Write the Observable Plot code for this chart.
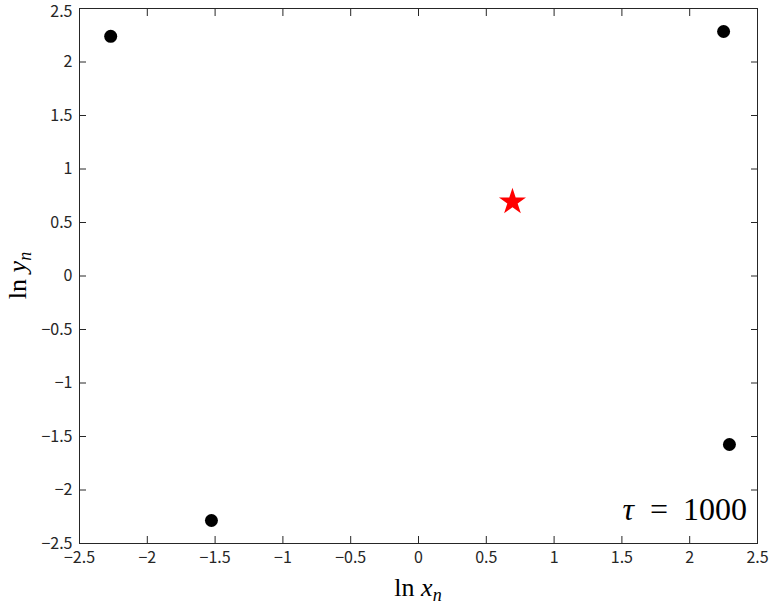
<!DOCTYPE html>
<html><head><meta charset="utf-8">
<script src="https://cdn.jsdelivr.net/npm/d3@7"></script>
<script src="https://cdn.jsdelivr.net/npm/@observablehq/plot@0.6"></script>
<style>
body{margin:0;background:#fff;}
#chart svg{display:block;}
</style></head>
<body><div id="chart"></div>
<script>
const lnX = [-2.27, 2.25, -1.527, 2.293];
const lnY = [2.24, 2.285, -2.285, -1.575];
const fixedX = [0.693];
const fixedY = [0.693];
const xTicks = [-2.5,-2,-1.5,-1,-0.5,0,0.5,1,1.5,2,2.5];
const yTicks = [-2.5,-2,-1.5,-1,-0.5,0,0.5,1,1.5,2,2.5];
const tauLabel = "1000";

const pts = lnX.map((x,i)=>({x, y: lnY[i]}));
const star = fixedX.map((x,i)=>({x, y: fixedY[i]}));
const fmt = d => (d<0 ? "\u2212" : "") + Math.abs(d);
const W = 771, H = 606, ML = 79, MR = 14, MT = 8, MB = 63;
const axisColor = "#262626";
const tickFont = {fontSize: 16, fontFamily: "'Noto Sans CJK JP', 'Noto Sans', sans-serif", fill: "#262626"};
const yMax = d3.max(yTicks);

const plot = Plot.plot({
  width: W, height: H,
  marginLeft: ML, marginRight: MR, marginTop: MT, marginBottom: MB,
  style: {background: "#fff", overflow: "visible"},
  x: {domain: [-2.5, 2.5], label: null},
  y: {domain: [-2.5, 2.5], label: null},
  marks: [
    Plot.axisX({anchor: "bottom", ticks: xTicks, tickSize: -7, text: null, stroke: axisColor, label: null}),
    Plot.axisX({anchor: "top", ticks: xTicks, tickSize: -7, text: null, stroke: axisColor, label: null}),
    Plot.axisY({anchor: "left", ticks: yTicks, tickSize: -7, text: null, stroke: axisColor, label: null}),
    Plot.axisY({anchor: "right", ticks: yTicks, tickSize: -7, text: null, stroke: axisColor, label: null}),
    Plot.axisX({anchor: "bottom", ticks: xTicks, tickSize: 0, tickPadding: 8, tickFormat: fmt, label: null, ...tickFont}),
    Plot.axisY({anchor: "left", ticks: yTicks.filter(d => d !== yMax), tickSize: 0, tickPadding: 7, tickFormat: fmt, label: null, ...tickFont}),
    Plot.axisY({anchor: "left", ticks: [yMax], tickSize: 0, tickPadding: 7, tickFormat: fmt, label: null, dy: 3, ...tickFont}),
    Plot.frame({stroke: axisColor, strokeWidth: 1}),
    Plot.dot(pts, {x: "x", y: "y", r: 6.5, fill: "black", stroke: "none"}),
    Plot.dot(star, {x: "x", y: "y", symbol: "star", r: 8.5, fill: "#ff0000", stroke: "none"})
  ]
});
document.getElementById("chart").appendChild(plot);

const svg = d3.select(plot);
const serif = "'Liberation Serif', 'DejaVu Serif', serif";
// x label
const xl = svg.append("text").attr("x", ML + (W-ML-MR)/2).attr("y", 596)
  .attr("text-anchor", "middle").attr("font-family", serif).attr("font-size", 26).attr("fill", "#000");
xl.append("tspan").text("ln ");
xl.append("tspan").attr("font-style", "italic").text("x");
xl.append("tspan").attr("font-style", "italic").attr("font-size", 18).attr("dy", 5).text("n");
// y label
const yl = svg.append("text").attr("transform", `translate(26,${MT + (H-MT-MB)/2}) rotate(-90)`)
  .attr("text-anchor", "middle").attr("font-family", serif).attr("font-size", 26).attr("fill", "#000");
yl.append("tspan").text("ln ");
yl.append("tspan").attr("font-style", "italic").text("y");
yl.append("tspan").attr("font-style", "italic").attr("font-size", 18).attr("dy", 5).text("n");
// tau label
const tl = svg.append("text").attr("x", W - MR - 10).attr("y", 520)
  .attr("text-anchor", "end").attr("font-family", serif).attr("font-size", 32).attr("fill", "#000");
tl.append("tspan").attr("font-style", "italic").text("τ");
tl.append("tspan").attr("dx", 16).text("=");
tl.append("tspan").attr("dx", 15).text(tauLabel);
</script></body></html>
